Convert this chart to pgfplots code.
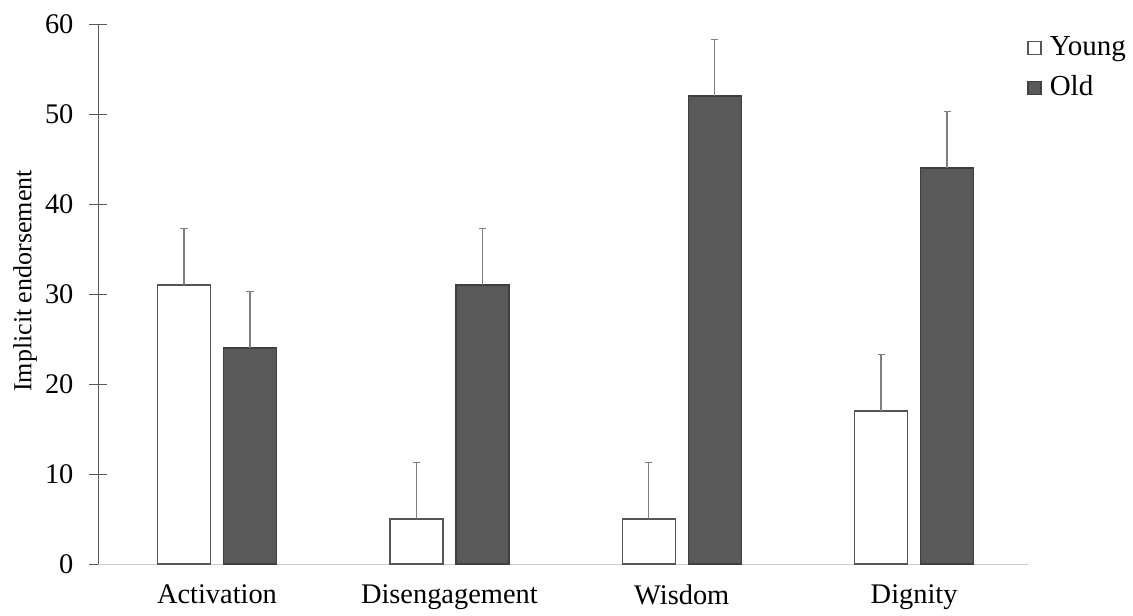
\documentclass[border=0pt]{standalone}
\usepackage{pgfplots}
\pgfplotsset{compat=1.18}
\usepackage{fontspec}
\setmainfont{Liberation Serif}

\definecolor{oldfill}{HTML}{595959}
\definecolor{oldedge}{HTML}{3F3F3F}
\definecolor{youngedge}{HTML}{555555}
\definecolor{errgray}{HTML}{7F7F7F}

\begin{document}
\fontsize{14.5}{17}\selectfont
\begin{tikzpicture}
\begin{axis}[
    name=ax,
    width=465pt, height=270pt, scale only axis,
    ybar=6.5pt, bar width=26.5pt,
    xmin=-0.512, xmax=3.49, ymin=0, ymax=60,
    xtick=data,
    xticklabels={Activation,Disengagement,Wisdom,Dignity},
    ytick={0,10,...,60},
    axis x line*=bottom, axis y line*=left,
    x axis line style={draw=black!20, -},
    y axis line style={draw=black!65, -},
    xtick style={draw=none},
    ytick style={draw=black!65},
    tick align=center, major tick length=8.5pt,
    /pgf/number format/assume math mode=true,
    tick label style={font=\fontsize{14.2}{17}\selectfont},
    yticklabel style={xshift=-3pt},
    xticklabel style={yshift=-1pt},
    ylabel={Implicit endorsement},
    ylabel style={at={(axis description cs:0,0.5)}, anchor=south,
        yshift=25.5pt, xshift=6.5pt, font=\fontsize{13}{15}\selectfont},
    legend style={at={(rel axis cs:1,0.985)}, anchor=north west, xshift=-0.5pt,
        draw=none, fill=none, font=\fontsize{14.5}{17}\selectfont,
        row sep=4pt, inner sep=0pt},
    legend cell align=left,
    legend image code/.code={\draw[#1] (0pt,-3.25pt) rectangle (6.5pt,3.25pt);
        \path (8.5pt,0pt);},
    error bars/y dir=plus, error bars/y explicit,
    error bars/error bar style={draw=errgray, line width=0.7pt},
    error bars/error mark options={draw=errgray, line width=0.7pt, rotate=90, mark size=1.8pt},
]
\addplot[fill=white, draw=youngedge, line width=0.7pt]
    coordinates {(0,31) +- (0,6.25) (1,5) +- (0,6.25) (2,5) +- (0,6.25) (3,17) +- (0,6.25)};
\addplot[fill=oldfill, draw=oldedge, line width=0.7pt]
    coordinates {(0,24) +- (0,6.25) (1,31) +- (0,6.25) (2,52) +- (0,6.25) (3,44) +- (0,6.25)};
\legend{Young, Old}
\end{axis}
\pgfresetboundingbox
\path (ax.south west) ++(-49pt,-25.5pt) coordinate (bl);
\path (ax.north east) ++(52.5pt,12pt) coordinate (tr);
\path[use as bounding box] (bl) rectangle (tr);
\end{tikzpicture}
\end{document}
